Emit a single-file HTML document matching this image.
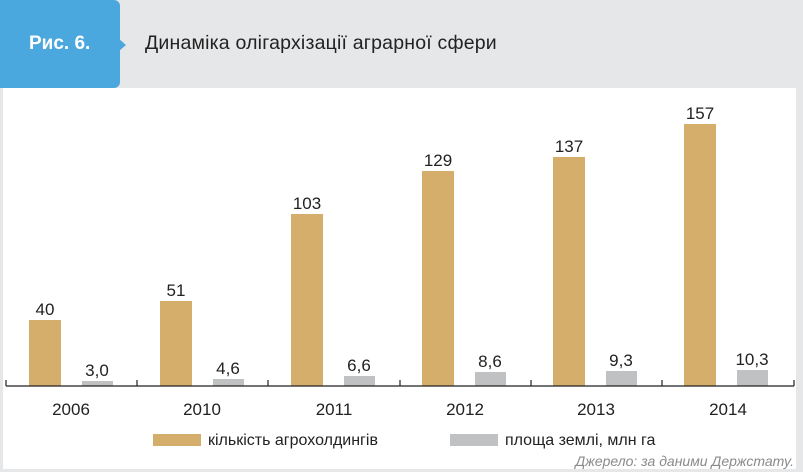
<!DOCTYPE html>
<html><head><meta charset="utf-8"><style>
body{margin:0;width:803px;height:472px;overflow:hidden;background:#e6e7e9;font-family:"Liberation Sans",sans-serif;}
.t{position:absolute;white-space:nowrap}
</style></head><body>
<div style="position:absolute;left:3px;top:88px;width:793px;height:381px;background:#fff"></div>
<div style="position:absolute;left:0;top:0;width:120px;height:88px;background:#4ba8de;border-radius:0 6px 6px 0"></div>
<div style="position:absolute;left:118px;top:38px;width:0;height:0;border-top:7px solid transparent;border-bottom:7px solid transparent;border-left:8px solid #4ba8de"></div>
<div class="t" style="left:29px;top:33px;color:#fff;font-size:19px;font-weight:bold">Рис. 6.</div>
<div class="t" style="left:145px;top:32px;color:#222;font-size:19.5px;letter-spacing:0.2px">Динаміка олігархізації аграрної сфери</div>
<svg style="position:absolute;left:0;top:0" width="803" height="472" font-family="Liberation Sans, sans-serif">
<g fill="#d4ae6a">
<rect x="29" y="320" width="32" height="66"/><rect x="160" y="301" width="32" height="85"/><rect x="291" y="214" width="32" height="172"/><rect x="422" y="171" width="32" height="215"/><rect x="553" y="157" width="32" height="229"/><rect x="684" y="124" width="32" height="262"/>
</g>
<g fill="#c0c1c3">
<rect x="82" y="381" width="31" height="5"/><rect x="213" y="379" width="31" height="7"/><rect x="344" y="376" width="31" height="10"/><rect x="475" y="372" width="31" height="14"/><rect x="606" y="371" width="31" height="15"/><rect x="737" y="370" width="31" height="16"/>
</g>
<g stroke="#222" stroke-width="1.2" fill="none">
<line x1="6" y1="386" x2="794" y2="386"/>
<path d="M6 380V386M137 380V386M268 380V386M400 380V386M531 380V386M662 380V386M794 380V386"/>
</g>
<g font-size="17" fill="#222" text-anchor="middle">
<text x="45" y="315">40</text><text x="176" y="296">51</text><text x="307" y="209">103</text><text x="438" y="166">129</text><text x="569" y="152">137</text><text x="700" y="119">157</text>
<text x="97" y="376">3,0</text><text x="228" y="374">4,6</text><text x="359" y="371">6,6</text><text x="490" y="367">8,6</text><text x="621" y="366">9,3</text><text x="752" y="365">10,3</text>
<text x="71" y="415">2006</text><text x="202" y="415">2010</text><text x="334" y="415">2011</text><text x="465" y="415">2012</text><text x="596" y="415">2013</text><text x="728" y="415">2014</text>
</g>
<rect x="153" y="434" width="48" height="12" fill="#d4ae6a"/>
<text x="208" y="445" font-size="16" fill="#222">кількість агрохолдингів</text>
<rect x="450" y="434" width="48" height="12" fill="#c0c1c3"/>
<text x="505" y="445" font-size="16" fill="#222">площа землі, млн га</text>
<text x="794" y="466" font-size="14" font-style="italic" fill="#8a8a8a" text-anchor="end">Джерело: за даними Держстату.</text>
</svg>
</body></html>
